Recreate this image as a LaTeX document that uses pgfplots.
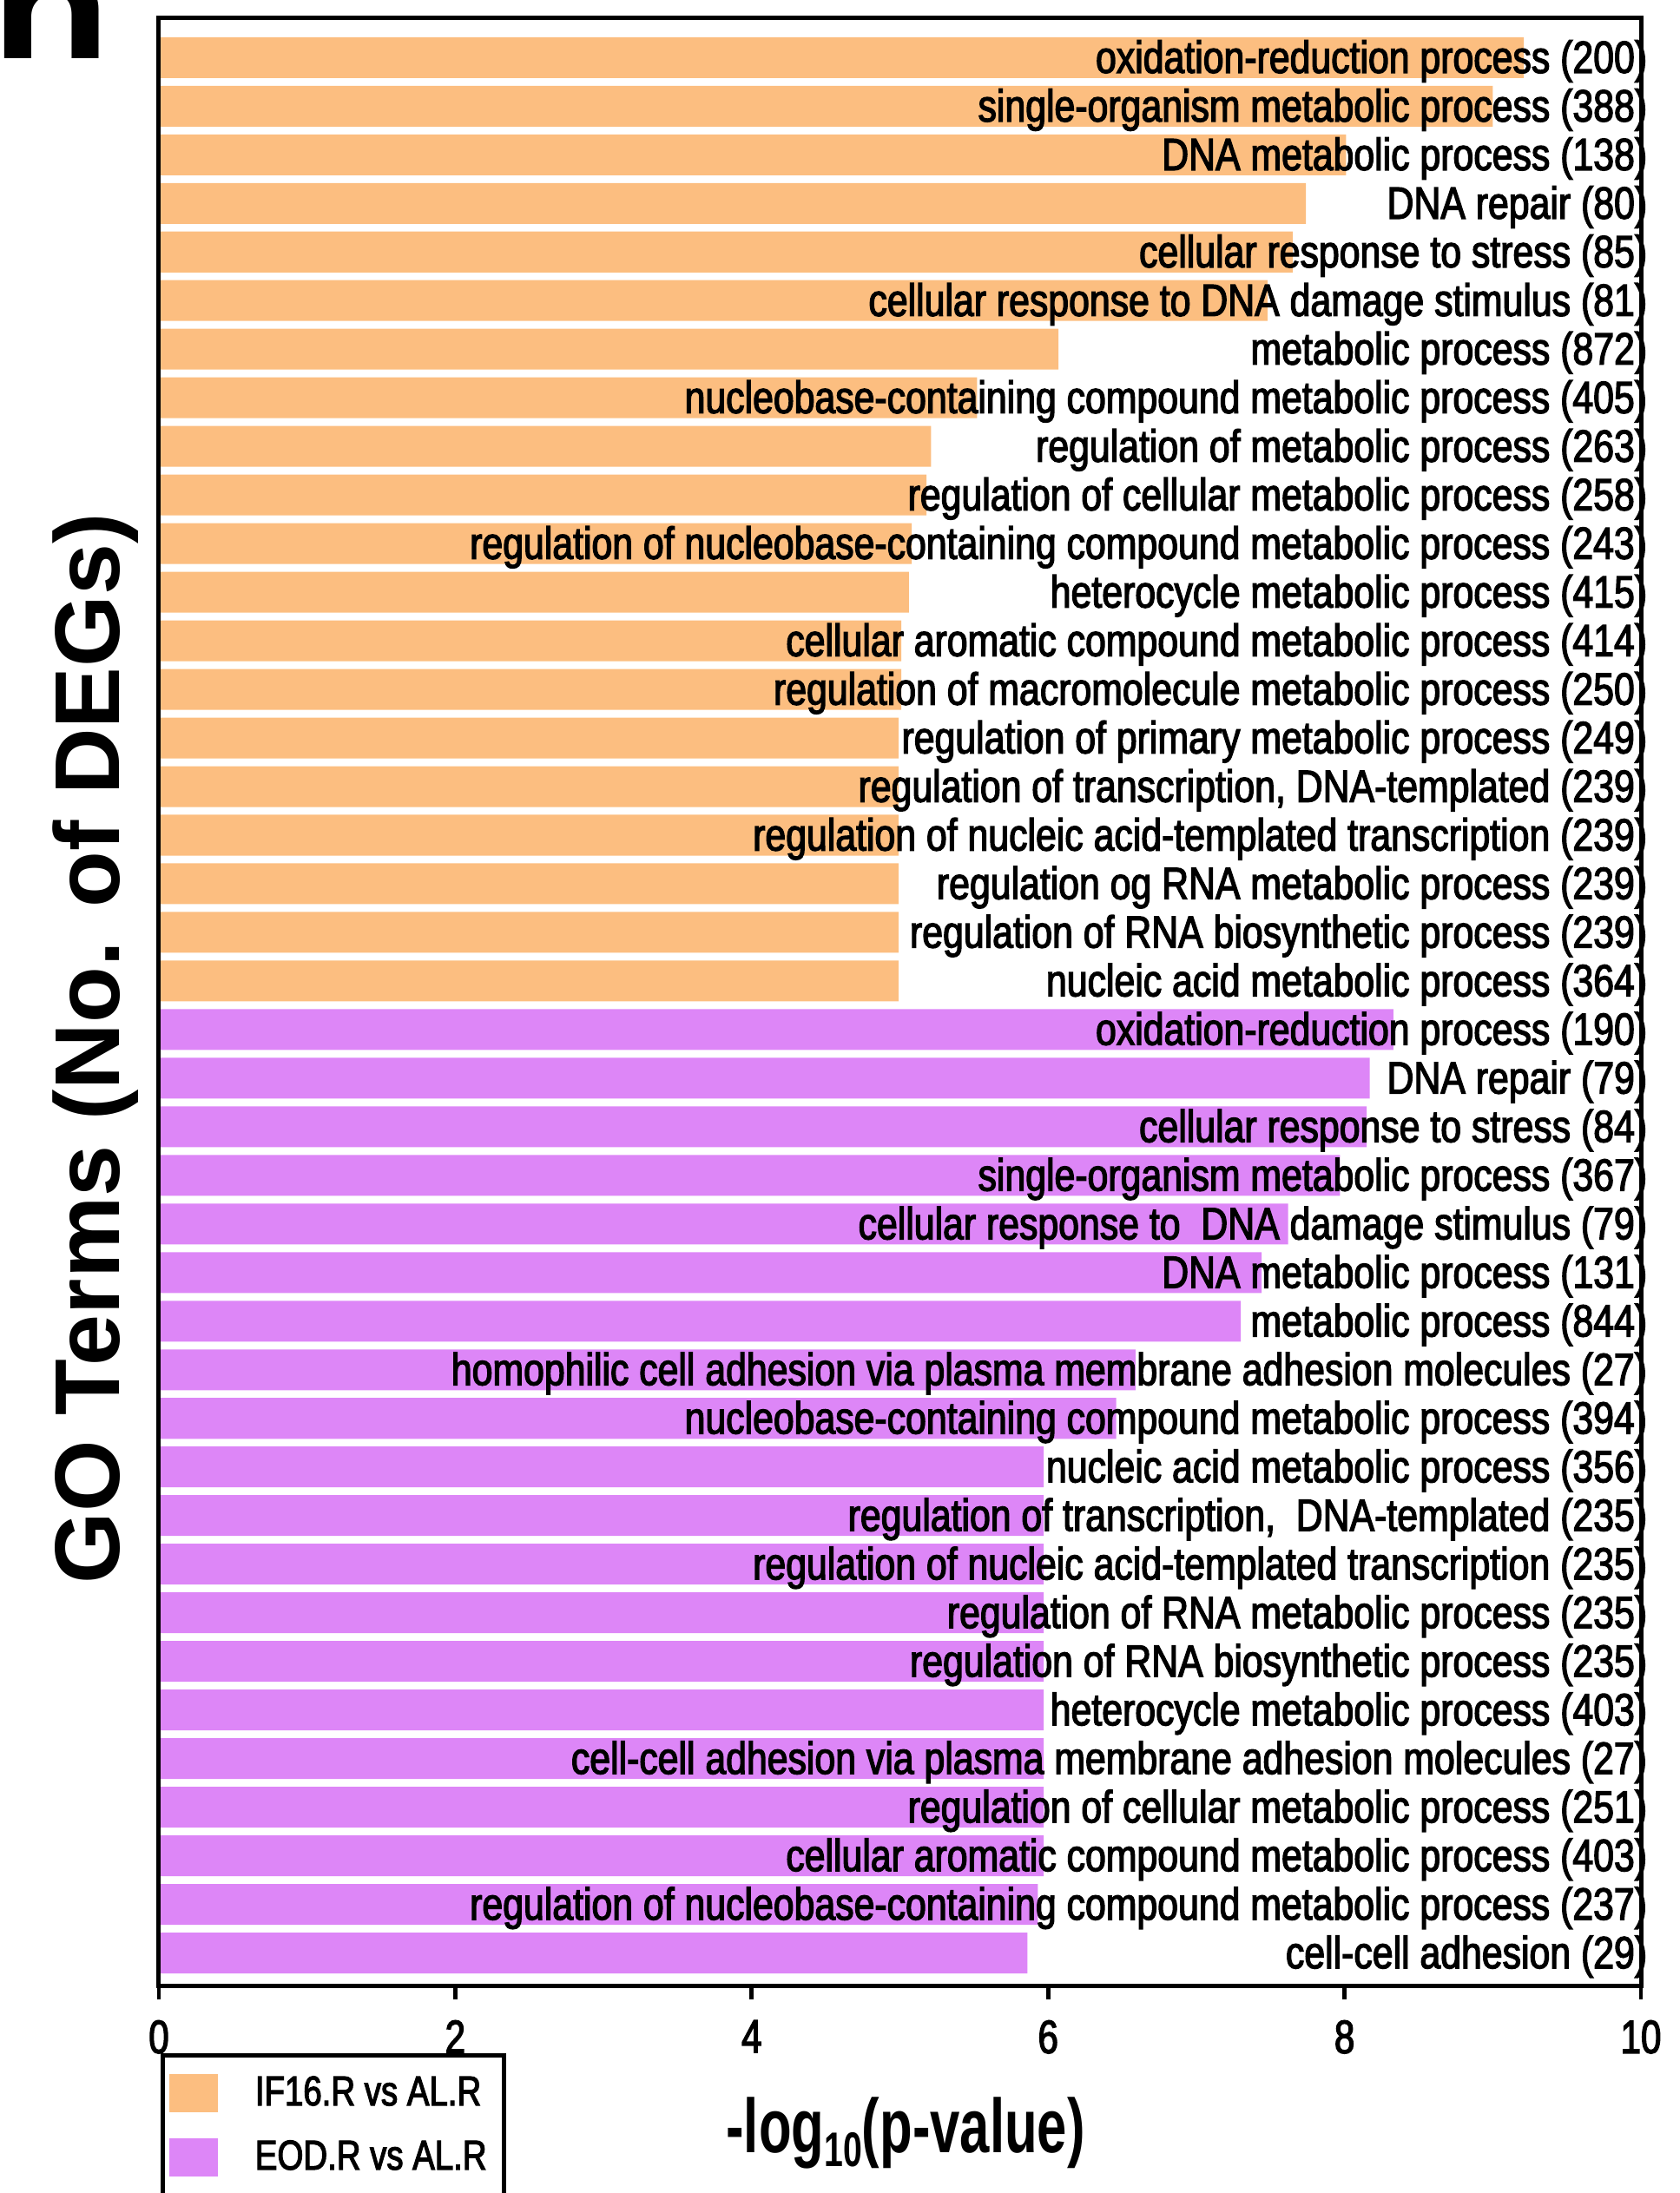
\documentclass[border=0pt]{standalone}
\usepackage{fontspec}
\setmainfont{Liberation Sans}
\newfontfamily\labf{Liberation Sans}[FakeStretch=0.823, FakeBold=2.5]
\newfontfamily\tickf{Liberation Sans}[FakeStretch=0.78, FakeBold=2.5]
\newfontfamily\legf{Liberation Sans}[FakeStretch=0.80, FakeBold=2.5]
\newfontfamily\xlf{Liberation Sans}[FakeStretch=0.70]
\usepackage{pgfplots}
\usepackage{pgfplotstable}
\pgfplotsset{compat=1.18}
\definecolor{orangebar}{RGB}{252,190,128}
\definecolor{purplebar}{RGB}{221,134,247}

\pgfplotstableread{
pos val
1 9.21
2 9.00
3 8.01
4 7.74
5 7.65
6 7.48
7 6.07
8 5.52
9 5.21
10 5.18
11 5.08
12 5.06
13 5.01
14 5.01
15 4.99
16 4.99
17 4.99
18 4.99
19 4.99
20 4.99
}\orangedata

\pgfplotstableread{
pos val
21 8.33
22 8.17
23 8.15
24 7.97
25 7.62
26 7.44
27 7.30
28 6.59
29 6.46
30 5.97
31 5.97
32 5.97
33 5.97
34 5.97
35 5.97
36 5.97
37 5.97
38 5.97
39 5.93
40 5.86
}\purpledata

\begin{document}
\begin{tikzpicture}
\begin{axis}[
  at={(0,0)}, anchor=south west,
  width=426.75pt, height=566.5pt, scale only axis,
  xbar, bar shift=0pt, bar width=0.84,
  xmin=0, xmax=10, ymin=0.19, ymax=40.67, y dir=reverse,
  xtick={0,2,...,10},
  ytick={1,...,40},
  yticklabels={
    oxidation-reduction process (200),
    single-organism metabolic process (388),
    DNA metabolic process (138),
    DNA repair (80),
    cellular response to stress (85),
    cellular response to DNA damage stimulus (81),
    metabolic process (872),
    nucleobase-containing compound metabolic process (405),
    regulation of metabolic process (263),
    regulation of cellular metabolic process (258),
    regulation of nucleobase-containing compound metabolic process (243),
    heterocycle metabolic process (415),
    cellular aromatic compound metabolic process (414),
    regulation of macromolecule metabolic process (250),
    regulation of primary metabolic process (249),
    {regulation of transcription, DNA-templated (239)},
    regulation of nucleic acid-templated transcription (239),
    regulation og RNA metabolic process (239),
    regulation of RNA biosynthetic process (239),
    nucleic acid metabolic process (364),
    oxidation-reduction process (190),
    DNA repair (79),
    cellular response to stress (84),
    single-organism metabolic process (367),
    cellular response to\ \ DNA damage stimulus (79),
    DNA metabolic process (131),
    metabolic process (844),
    homophilic cell adhesion via plasma membrane adhesion molecules (27),
    nucleobase-containing compound metabolic process (394),
    nucleic acid metabolic process (356),
    {regulation of transcription,\ \ DNA-templated (235)},
    regulation of nucleic acid-templated transcription (235),
    regulation of RNA metabolic process (235),
    regulation of RNA biosynthetic process (235),
    heterocycle metabolic process (403),
    cell-cell adhesion via plasma membrane adhesion molecules (27),
    regulation of cellular metabolic process (251),
    cellular aromatic compound metabolic process (403),
    regulation of nucleobase-containing compound metabolic process (237),
    cell-cell adhesion (29)
  },
  yticklabel pos=right,
  yticklabel style={anchor=base east, inner sep=0pt, xshift=-2pt, yshift=-4.4pt,
    font=\labf\fontsize{13}{13}\selectfont},
  ytick style={draw=none},
  tick align=outside,
  xtick pos=left,
  major tick length=4pt,
  tick style={line width=1.2pt, black},
  xticklabel style={font=\tickf\fontsize{13.5}{13.5}\selectfont, yshift=-2.5pt},
  /pgf/number format/assume math mode=true,
  axis line style={line width=1.25pt},
  axis on top,
  xlabel={-log\raisebox{-0.35ex}{\fontsize{14}{14}\selectfont 10}(p-value)},
  xlabel style={at={(axis description cs:0.5038,0)}, anchor=center, yshift=-42.5pt,
    font=\xlf\bfseries\fontsize{22}{22}\selectfont},
  legend style={at={(axis description cs:0,0)}, anchor=north west, xshift=0.5pt, yshift=-19.5pt,
    draw=black, line width=1.25pt, fill=white,
    font=\legf\fontsize{12}{12}\selectfont,
    inner xsep=2pt, inner ysep=4pt, row sep=4.6pt,
    nodes={inner xsep=3pt},
    /tikz/every odd column/.append style={column sep=7.6pt},
    cells={anchor=west}},
  legend image code/.code={\fill[#1, draw=none] (0pt,-5.5pt) rectangle (14pt,5.5pt);},
]
\addplot[fill=orangebar, draw=none, bar shift=0pt] table[x=val, y=pos] {\orangedata};
\addlegendentry{IF16.R vs AL.R}
\addplot[fill=purplebar, draw=none, bar shift=0pt] table[x=val, y=pos] {\purpledata};
\addlegendentry{EOD.R vs AL.R}
\end{axis}
\node[rotate=90, anchor=base, inner sep=0pt, font=\bfseries\fontsize{26.5}{26.5}\selectfont]
  at (-11.25pt, 269.75pt) {GO Terms (No. of DEGs)};
\node[anchor=base east, inner sep=0pt, font=\bfseries\fontsize{42}{42}\selectfont]
  at (-13.5pt, 554.75pt) {\scalebox{1.35}[1]{h}};
\pgfresetboundingbox
\useasboundingbox (-45.75pt,-59.75pt) rectangle (438pt,571.75pt);
\end{tikzpicture}
\end{document}
